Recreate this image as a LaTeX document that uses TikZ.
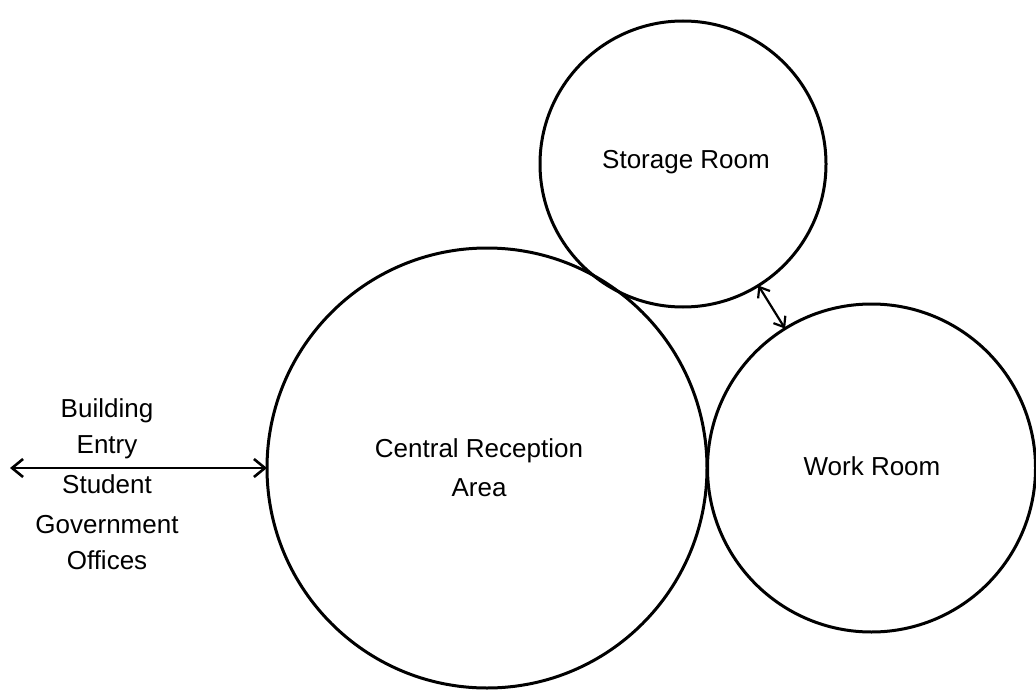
\documentclass[tikz,border=0pt]{standalone}
\usepackage{fontspec}
\setmainfont{Liberation Sans}
\usetikzlibrary{arrows.meta}
\begin{document}
\begin{tikzpicture}[x=1pt,y=-1pt,
  room/.style={circle,draw,line width=3pt,inner sep=0pt,outer sep=0pt},
  lbl/.style={font=\fontsize{26}{39}\selectfont,inner sep=0pt},
  link/.style={line width=2.6pt,{Straight Barb[length=11pt,width=18pt]}-{Straight Barb[length=11pt,width=18pt]}},
  smalllink/.style={line width=2.2pt,{Straight Barb[length=9pt,width=14pt]}-{Straight Barb[length=9pt,width=14pt]}}]
\useasboundingbox (0,0) rectangle (1036,690);
% rooms
\node[room,minimum size=440pt] (C) at (487,468) {};
\node[room,minimum size=286pt] (S) at (683,164) {};
\node[room,minimum size=328pt] (W) at (871.5,468) {};
% room names
\node[lbl,align=center] (Ct) at (479,468) {Central Reception\\Area};
\node[lbl,anchor=base] (St) at (686,168) {Storage Room};
\node[lbl,anchor=base] (Wt) at (872,475) {Work Room};
% entrance labels
\node[lbl,anchor=base] (L1) at (107,417) {Building};
\node[lbl,anchor=base] (L2) at (107,453) {Entry};
\node[lbl,anchor=base] (L3) at (107,493) {Student};
\node[lbl,anchor=base] (L4) at (107,533) {Government};
\node[lbl,anchor=base] (L5) at (107,569) {Offices};
% connections
\coordinate (E) at (10,468);
\draw[link] (E) -- (C.west);
\draw[smalllink] (S) -- (W);
\end{tikzpicture}
\end{document}
